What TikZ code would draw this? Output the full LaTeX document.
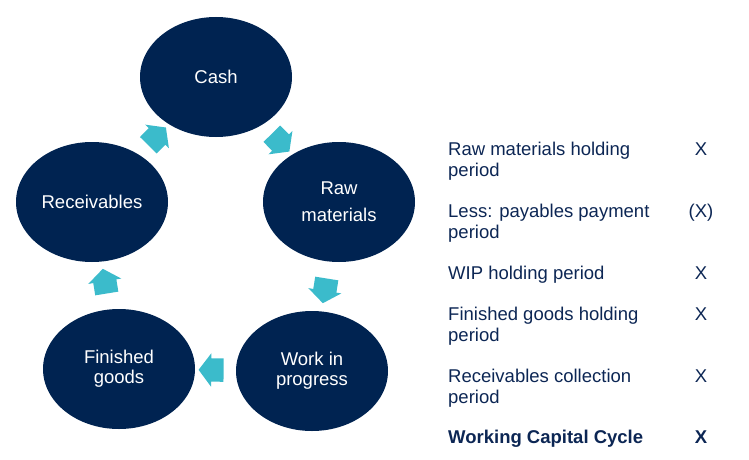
\documentclass[tikz,border=0pt]{standalone}
\usepackage{fontspec}
\setmainfont{Liberation Sans}
\usetikzlibrary{shapes.geometric,shapes.arrows,calc}
\definecolor{navy}{HTML}{002351}
\definecolor{cyc}{HTML}{3BBBCB}
\definecolor{txt}{HTML}{0C2654}
\begin{document}
\begin{tikzpicture}[x=1pt,y=-1pt,
  stage/.style={ellipse, fill=navy, text=white, minimum width=152pt, minimum height=120pt,
    inner sep=0pt, align=center, font=\fontsize{18.5}{20}\selectfont},
  flow/.style={single arrow, fill=cyc, draw=none, minimum height=25pt, minimum width=0pt,
    single arrow head extend=5pt, single arrow tip angle=106, inner xsep=0pt, inner ysep=11.5pt,
    sloped, allow upside down},
  item/.style={anchor=base west, align=left, text=txt, font=\fontsize{18.5}{21}\selectfont, inner sep=0pt},
  val/.style={anchor=base, text=txt, font=\fontsize{18.5}{21}\selectfont, inner sep=0pt}]
\useasboundingbox (0,0) rectangle (749,460);
\node[stage] (cash) at (216,77) {Cash};
\node[stage] (raw) at (339,202) {Raw\\[7pt]materials};
\node[stage] (wip) at (312,371) {Work in\\progress};
\node[stage] (fin) at (119,369) {Finished\\goods};
\node[stage] (rec) at (92,202) {Receivables};
\path (cash) -- node[flow] (a1) {} (raw);
\path (raw) -- node[flow] (a2) {} (wip);
\path (wip) -- node[flow] (a3) {} (fin);
\path (fin) -- node[flow] (a4) {} (rec);
\path (rec) -- node[flow] (a5) {} (cash);
% multi-line items are placed by the baseline of their last line
\node[item] (t1) at (448,176) {Raw materials holding\\period};
\node[val] (v1) at (701,155) {X};
\node[item] (t2) at (448,238) {Less: payables payment\\period};
\node[val] (v2) at (701,217) {(X)};
\node[item] (t3) at (448,279) {WIP holding period};
\node[val] (v3) at (701,279) {X};
\node[item] (t4) at (448,341) {Finished goods holding\\period};
\node[val] (v4) at (701,320) {X};
\node[item] (t5) at (448,403) {Receivables collection\\period};
\node[val] (v5) at (701,382) {X};
\node[item, font=\fontsize{18.5}{21}\selectfont\bfseries] (t6) at (448,443) {Working Capital Cycle};
\node[val, font=\fontsize{18.5}{21}\selectfont\bfseries] (v6) at (701,443) {X};
\end{tikzpicture}
\end{document}
